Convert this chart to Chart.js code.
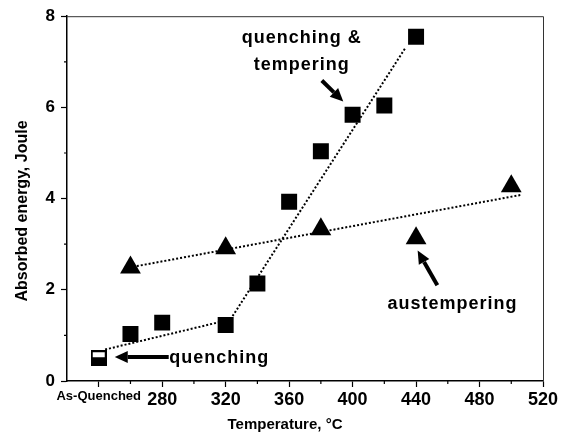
<!DOCTYPE html>
<html><head><meta charset="utf-8">
<script src="https://cdn.jsdelivr.net/npm/chart.js@4.4.1/dist/chart.umd.min.js"></script>
<style>html,body{margin:0;padding:0;background:#fff;}</style>
</head><body>
<canvas id="c" width="563" height="446" style="width:563px;height:446px;display:block"></canvas>
<script>
// ---- data ----
const qtTemps  = [240, 260, 280, 320, 340, 360, 380, 400, 420, 440];
const qtEnergy = [0.50, 1.03, 1.28, 1.23, 2.14, 3.93, 5.04, 5.84, 6.04, 7.55];
const atTemps  = [260, 320, 380, 440, 500];
const atEnergy = [2.49, 2.91, 3.33, 3.13, 4.27];
// dotted trend lines (end points)
const qLineT  = [244, 323];  const qLineE  = [0.69, 1.35];
const qtLineT = [323, 433];  const qtLineE = [1.35, 7.29];
const atLineT = [264, 506];  const atLineE = [2.52, 4.08];
// ticks
const xMinorTicks = [260, 300, 340, 380, 420, 460, 500];
const xTickValues = [240, 280, 320, 360, 400, 440, 480, 520];
const xTickLabels = ['As-Quenched', '280', '320', '360', '400', '440', '480', '520'];
const yTickValues = [0, 2, 4, 6, 8];
const yTickLabels = ['0', '2', '4', '6', '8'];
const yMinorTicks = [1, 3, 5, 7];
const xTitle = 'Temperature, \u00B0C';
const yTitle = 'Absorbed energy, Joule';
// annotations (data coordinates)
const noteTexts = ['quenching &', 'tempering', 'austempering', 'quenching'];
const noteT = [368, 368, 463, 316];
const noteE = [7.42, 6.82, 1.57, 0.40];
const arrowFromT = [380.6, 453.4, 284.1];
const arrowFromE = [6.59, 2.10, 0.527];
const arrowToT   = [394.1, 441.0, 250.1];
const arrowToE   = [6.13, 2.86, 0.527];

const pts = (xs, ys) => xs.map((x, i) => ({x: x, y: ys[i]}));

function makeAQ() {
  const s = 16, c = document.createElement('canvas');
  c.width = s; c.height = s;
  const g = c.getContext('2d');
  g.fillStyle = '#000'; g.fillRect(0, 0, s, s);
  g.fillStyle = '#fff'; g.fillRect(2, 2, s - 4, 5);
  return c;
}
const aqImg = makeAQ();
const qtStyles = qtTemps.map((t, i) => i === 0 ? aqImg : 'rect');

const FAM = '"Liberation Sans", Arial, sans-serif';
const NARROW = '"Liberation Sans Narrow", "Liberation Sans", Arial, sans-serif';

const decor = {
  id: 'decor',
  afterDraw(chart) {
    const ctx = chart.ctx, a = chart.chartArea;
    const xs = chart.scales.x, ys = chart.scales.y;
    ctx.save();
    // frame top/right
    ctx.strokeStyle = '#333'; ctx.lineWidth = 1;
    ctx.beginPath();
    ctx.moveTo(a.left, a.top + 0.5); ctx.lineTo(a.right + 0.5, a.top + 0.5); ctx.lineTo(a.right + 0.5, a.bottom);
    ctx.stroke();
    // minor ticks
    ctx.strokeStyle = '#000'; ctx.lineWidth = 1.2;
    ctx.beginPath();
    xMinorTicks.forEach(v => { const p = xs.getPixelForValue(v); ctx.moveTo(p, a.bottom); ctx.lineTo(p, a.bottom + 3); });
    yMinorTicks.forEach(v => { const p = ys.getPixelForValue(v); ctx.moveTo(a.left, p); ctx.lineTo(a.left - 3, p); });
    ctx.stroke();
    // axis titles
    ctx.fillStyle = '#000';
    ctx.font = 'bold 15px ' + FAM;
    ctx.textAlign = 'center'; ctx.textBaseline = 'middle';
    ctx.fillText(xTitle, 285, 425);
    ctx.save();
    ctx.translate(23, 211); ctx.rotate(-Math.PI / 2);
    ctx.font = 'bold 16px ' + FAM;
    ctx.fillText(yTitle, 0, 0);
    ctx.restore();
    // annotation texts
    ctx.font = 'bold 18px ' + FAM;
    try { ctx.letterSpacing = '1px'; } catch (e) {}
    ctx.textBaseline = 'alphabetic';
    noteTexts.forEach((t, i) => {
      ctx.fillText(t, xs.getPixelForValue(noteT[i]), ys.getPixelForValue(noteE[i]));
    });
    try { ctx.letterSpacing = '0px'; } catch (e) {}
    // arrows
    arrowFromT.forEach((t, i) => {
      const x1 = xs.getPixelForValue(t), y1 = ys.getPixelForValue(arrowFromE[i]);
      const x2 = xs.getPixelForValue(arrowToT[i]), y2 = ys.getPixelForValue(arrowToE[i]);
      const ang = Math.atan2(y2 - y1, x2 - x1);
      const hl = 13, hw = 6;
      const bx = x2 - Math.cos(ang) * hl, by = y2 - Math.sin(ang) * hl;
      ctx.strokeStyle = '#000'; ctx.lineWidth = 4; ctx.lineCap = 'butt';
      ctx.beginPath(); ctx.moveTo(x1, y1); ctx.lineTo(bx, by); ctx.stroke();
      ctx.beginPath();
      ctx.moveTo(x2, y2);
      ctx.lineTo(bx + Math.sin(ang) * hw, by - Math.cos(ang) * hw);
      ctx.lineTo(bx - Math.sin(ang) * hw, by + Math.cos(ang) * hw);
      ctx.closePath(); ctx.fill();
    });
    ctx.restore();
  }
};

const lineDs = (xs, ys) => ({
  data: pts(xs, ys), showLine: true, pointRadius: 0, borderColor: '#000',
  borderWidth: 2, borderDash: [2, 2], fill: false, order: 2
});

new Chart(document.getElementById('c'), {
  type: 'scatter',
  data: {
    datasets: [
      lineDs(qLineT, qLineE),
      lineDs(qtLineT, qtLineE),
      lineDs(atLineT, atLineE),
      { label: 'quenching & tempering', data: pts(qtTemps, qtEnergy), pointStyle: qtStyles,
        pointRadius: 11.3, backgroundColor: '#000', borderColor: '#000', borderWidth: 0, order: 1 },
      { label: 'austempering', data: pts(atTemps, atEnergy), pointStyle: 'triangle',
        pointRadius: 12, backgroundColor: '#000', borderColor: '#000', borderWidth: 0, order: 1 }
    ]
  },
  options: {
    responsive: false, animation: false, devicePixelRatio: 1,
    layout: { padding: { top: 14, right: 20, left: 0, bottom: 0 } },
    plugins: { legend: { display: false }, tooltip: { enabled: false } },
    scales: {
      x: {
        type: 'linear', min: 220, max: 520,
        afterFit: s => { s.height = 65; },
        afterBuildTicks: s => { s.ticks = xTickValues.map(v => ({ value: v })); },
        grid: { drawOnChartArea: false, drawTicks: true, tickLength: 6, tickColor: '#000', tickWidth: 1.2 },
        border: { display: true, color: '#000', width: 1.5 },
        ticks: {
          autoSkip: false, maxRotation: 0, color: '#000', padding: 2,
          callback: (v) => { const i = xTickValues.indexOf(v); return i >= 0 ? xTickLabels[i] : ''; },
          font: (c) => (c.tick && c.tick.value === 240)
            ? { family: FAM, size: 13, weight: 'bold' }
            : { family: NARROW, size: 18, weight: 'bold' }
        }
      },
      y: {
        type: 'linear', min: 0, max: 8,
        afterFit: s => { s.width = 67; },
        afterBuildTicks: s => { s.ticks = yTickValues.map(v => ({ value: v })); },
        grid: { drawOnChartArea: false, drawTicks: true, tickLength: 6, tickColor: '#000', tickWidth: 1.2 },
        border: { display: true, color: '#000', width: 1.5 },
        ticks: {
          color: '#000', padding: 6,
          callback: (v) => { const i = yTickValues.indexOf(v); return i >= 0 ? yTickLabels[i] : ''; },
          font: { family: NARROW, size: 17, weight: 'bold' }
        }
      }
    }
  },
  plugins: [decor]
});
</script>
</body></html>
